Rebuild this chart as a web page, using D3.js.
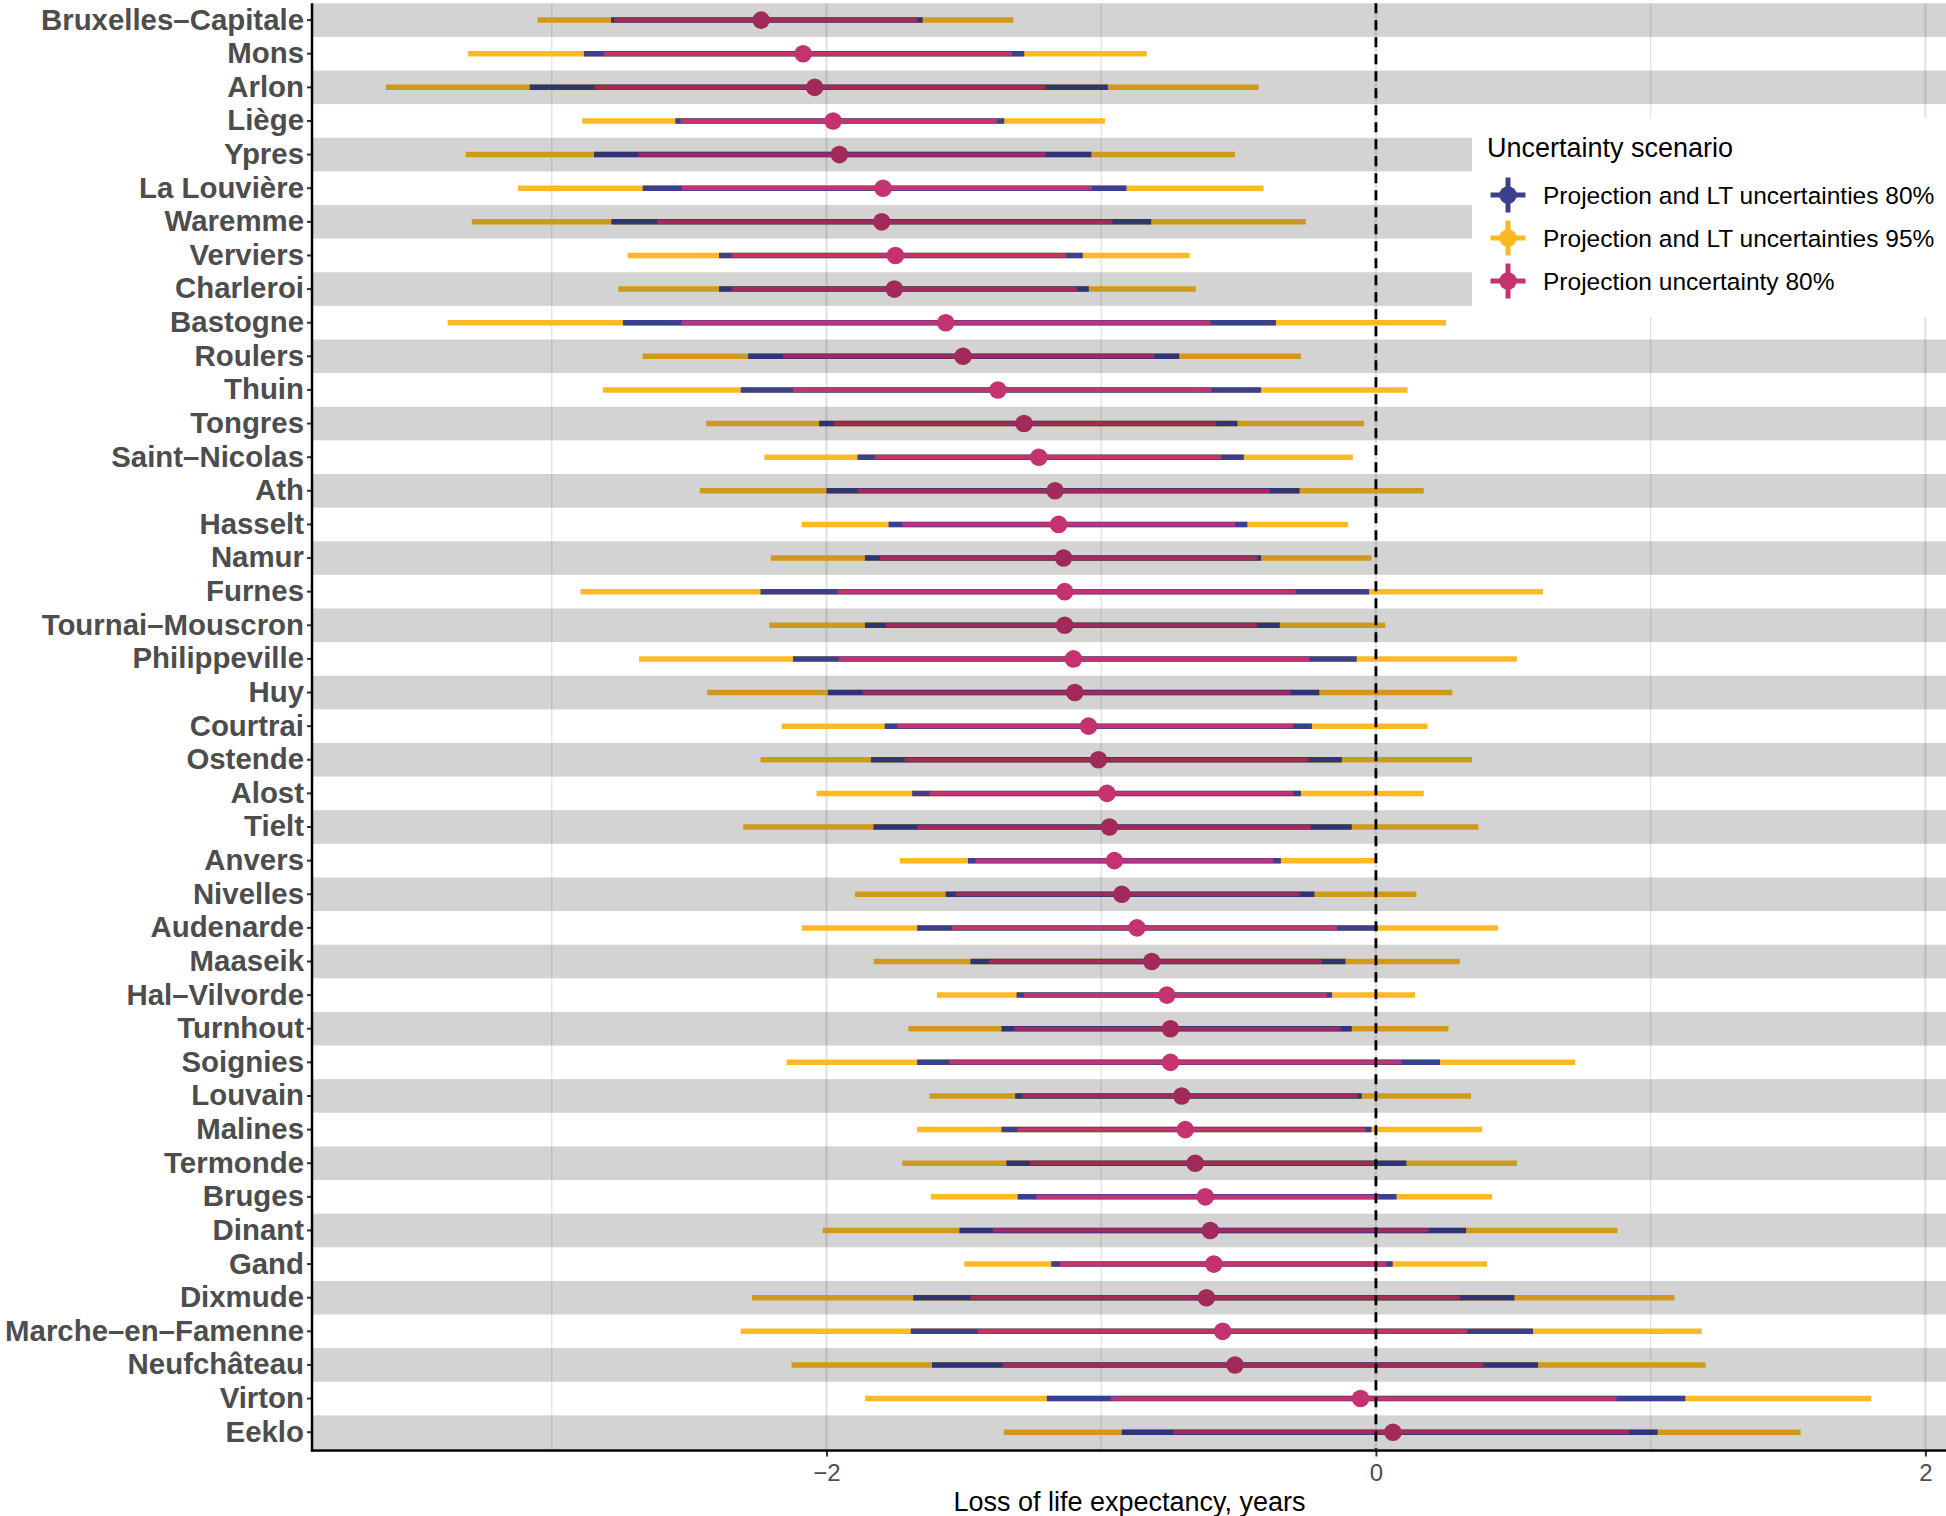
<!DOCTYPE html>
<html><head><meta charset="utf-8">
<script src="https://cdn.jsdelivr.net/npm/d3@7"></script>
<style>body{margin:0;background:#fff}svg{display:block}</style>
</head><body>
<script>
const regions = ["Bruxelles–Capitale","Mons","Arlon","Liège","Ypres","La Louvière","Waremme","Verviers","Charleroi","Bastogne","Roulers","Thuin","Tongres","Saint–Nicolas","Ath","Hasselt","Namur","Furnes","Tournai–Mouscron","Philippeville","Huy","Courtrai","Ostende","Alost","Tielt","Anvers","Nivelles","Audenarde","Maaseik","Hal–Vilvorde","Turnhout","Soignies","Louvain","Malines","Termonde","Bruges","Dinant","Gand","Dixmude","Marche–en–Famenne","Neufchâteau","Virton","Eeklo"];
const estimate = [-2.238,-2.085,-2.043,-1.976,-1.953,-1.794,-1.799,-1.749,-1.753,-1.566,-1.503,-1.376,-1.281,-1.227,-1.168,-1.155,-1.137,-1.133,-1.133,-1.101,-1.096,-1.046,-1.010,-0.979,-0.970,-0.952,-0.925,-0.870,-0.816,-0.761,-0.748,-0.748,-0.707,-0.694,-0.658,-0.621,-0.603,-0.590,-0.617,-0.558,-0.513,-0.056,0.062];
const projLo = [-2.772,-2.811,-2.844,-2.531,-2.685,-2.527,-2.616,-2.345,-2.345,-2.527,-2.158,-2.122,-1.973,-1.824,-1.887,-1.724,-1.806,-1.960,-1.783,-1.955,-1.869,-1.742,-1.715,-1.625,-1.670,-1.458,-1.530,-1.543,-1.408,-1.281,-1.317,-1.553,-1.286,-1.304,-1.259,-1.236,-1.394,-1.150,-1.476,-1.449,-1.358,-0.965,-0.738];
const projHi = [-1.670,-1.324,-1.203,-1.378,-1.202,-1.034,-0.959,-1.127,-1.088,-0.603,-0.807,-0.599,-0.581,-0.563,-0.386,-0.513,-0.432,-0.292,-0.432,-0.242,-0.310,-0.301,-0.246,-0.301,-0.237,-0.373,-0.278,-0.142,-0.197,-0.179,-0.129,0.093,-0.066,-0.038,-0.007,0.011,0.192,0.038,0.305,0.332,0.391,0.876,0.921];
const lt80Lo = [-2.784,-2.883,-3.080,-2.550,-2.846,-2.669,-2.783,-2.391,-2.391,-2.741,-2.285,-2.312,-2.027,-1.887,-2.000,-1.774,-1.860,-2.240,-1.860,-2.122,-1.995,-1.788,-1.838,-1.688,-1.829,-1.485,-1.566,-1.670,-1.476,-1.308,-1.363,-1.670,-1.313,-1.363,-1.345,-1.304,-1.516,-1.182,-1.684,-1.693,-1.616,-1.198,-0.925];
const lt80Hi = [-1.650,-1.280,-0.976,-1.353,-1.036,-0.908,-0.818,-1.067,-1.045,-0.364,-0.716,-0.418,-0.504,-0.481,-0.278,-0.468,-0.418,-0.025,-0.350,-0.070,-0.206,-0.233,-0.124,-0.273,-0.088,-0.346,-0.224,0.007,-0.111,-0.160,-0.088,0.233,-0.052,-0.016,0.111,0.075,0.328,0.061,0.504,0.572,0.590,1.126,1.025];
const lt95Lo = [-3.052,-3.305,-3.604,-2.889,-3.313,-3.123,-3.291,-2.724,-2.758,-3.379,-2.669,-2.814,-2.438,-2.226,-2.461,-2.090,-2.203,-2.895,-2.208,-2.682,-2.434,-2.163,-2.240,-2.036,-2.303,-1.733,-1.896,-2.090,-1.828,-1.598,-1.702,-2.145,-1.625,-1.670,-1.724,-1.620,-2.014,-1.498,-2.271,-2.312,-2.127,-1.859,-1.355];
const lt95Hi = [-1.320,-0.834,-0.427,-0.986,-0.513,-0.409,-0.255,-0.678,-0.656,0.255,-0.273,0.115,-0.043,-0.084,0.174,-0.102,-0.016,0.608,0.034,0.513,0.278,0.188,0.350,0.174,0.373,-0.002,0.147,0.445,0.305,0.142,0.264,0.725,0.346,0.387,0.513,0.423,0.879,0.405,1.087,1.186,1.200,1.803,1.546];
const xTicks = [-2, 0, 2];
const xMinor = [-3, -1, 1];
const legendTitle = "Uncertainty scenario";
const legendLabels = ["Projection and LT uncertainties 80%","Projection and LT uncertainties 95%","Projection uncertainty 80%"];
const xTitle = "Loss of life expectancy, years";

const colNavy = "#3b3f8c", colYellow = "#fbb923", colPink = "#c4336f";
const W = 1946, H = 1516;
const L = 313, R = 1946, T = 3.3, B = 1449;
const font = "'Liberation Sans', Arial, Helvetica, sans-serif";

const rows = regions.map((r, i) => ({r, i, est: estimate[i], pLo: projLo[i], pHi: projHi[i], aLo: lt80Lo[i], aHi: lt80Hi[i], bLo: lt95Lo[i], bHi: lt95Hi[i]}));

const x = d3.scaleLinear().domain([-3.869, 2.075]).range([L, R]);
const y = d3.scaleBand().domain(regions).range([T, B]).padding(0);
const cy = d => y(d.r) + y.bandwidth() / 2;

const svg = d3.select("body").append("svg").attr("width", W).attr("height", H).style("font-family", font);

// grid
svg.append("g").selectAll("line").data(xMinor).join("line")
  .attr("x1", d => x(d)).attr("x2", d => x(d)).attr("y1", T).attr("y2", B)
  .attr("stroke", "#e6e6e6").attr("stroke-width", 1.5);
svg.append("g").selectAll("line").data(xTicks).join("line")
  .attr("x1", d => x(d)).attr("x2", d => x(d)).attr("y1", T).attr("y2", B)
  .attr("stroke", "#e6e6e6").attr("stroke-width", 2.5);

const seg = (lo, hi, col, w) => svg.append("g").selectAll("line").data(rows).join("line")
  .attr("x1", d => x(d[lo])).attr("x2", d => x(d[hi])).attr("y1", cy).attr("y2", cy)
  .attr("stroke", col).attr("stroke-width", w);
seg("bLo", "bHi", colYellow, 5.5);
seg("aLo", "aHi", colNavy, 5.5);
seg("pLo", "pHi", colPink, 4.2);

// zero line
svg.append("line").attr("x1", x(0)).attr("x2", x(0)).attr("y1", T).attr("y2", B)
  .attr("stroke", "#000").attr("stroke-width", 2.8).attr("stroke-dasharray", "10,7");

svg.append("g").selectAll("circle").data(rows).join("circle")
  .attr("cx", d => x(d.est)).attr("cy", cy).attr("r", 8.8).attr("fill", colPink);

// alternating grey bands on top (semi-transparent)
svg.append("g").selectAll("rect").data(rows.filter(d => d.i % 2 === 0)).join("rect")
  .attr("x", L).attr("width", R - L).attr("y", d => y(d.r)).attr("height", y.bandwidth())
  .attr("fill", "#000").attr("fill-opacity", 0.173);

// axes
const ya = svg.append("g").attr("transform", `translate(${L},0)`)
  .call(d3.axisLeft(y).tickSize(6).tickPadding(3));
ya.select(".domain").remove();
ya.selectAll(".tick line").attr("stroke", "#333").attr("stroke-width", 2);
ya.selectAll(".tick text").attr("fill", "#4d4d4d").style("font-size", "29.4px")
  .style("font-weight", "bold").style("font-family", font);

const xa = svg.append("g").attr("transform", `translate(0,${B + 1.5})`)
  .call(d3.axisBottom(x).tickValues(xTicks).tickSize(6).tickPadding(7).tickFormat(d3.format("d")));
xa.select(".domain").remove();
xa.selectAll(".tick line").attr("stroke", "#333").attr("stroke-width", 2);
xa.selectAll(".tick text").attr("fill", "#4d4d4d").style("font-size", "24px").style("font-family", font);

svg.append("line").attr("x1", L - 1).attr("x2", L - 1).attr("y1", T).attr("y2", B + 2.5)
  .attr("stroke", "#000").attr("stroke-width", 2.5);
svg.append("line").attr("x1", L - 2).attr("x2", R).attr("y1", B + 1.5).attr("y2", B + 1.5)
  .attr("stroke", "#000").attr("stroke-width", 2.5);

svg.append("text").attr("x", (L + R) / 2).attr("y", 1511).attr("text-anchor", "middle")
  .style("font-size", "27px").attr("fill", "#000").text(xTitle);

// legend
const lg = svg.append("g");
lg.append("rect").attr("x", 1472).attr("y", 118).attr("width", W - 1472).attr("height", 199).attr("fill", "#fff");
lg.append("text").attr("x", 1487).attr("y", 157).style("font-size", "27px").attr("fill", "#000").text(legendTitle);
const lcols = [colNavy, colYellow, colPink];
const items = lg.selectAll("g.item").data(legendLabels).join("g").attr("class", "item")
  .attr("transform", (d, i) => `translate(1508,${195 + i * 43})`);
items.append("line").attr("x1", -17.5).attr("x2", 17.5).attr("stroke", (d, i) => lcols[i]).attr("stroke-width", 5);
items.append("line").attr("y1", -17.5).attr("y2", 17.5).attr("stroke", (d, i) => lcols[i]).attr("stroke-width", 5);
items.append("circle").attr("r", 8.8).attr("fill", (d, i) => lcols[i]);
items.append("text").attr("x", 35).attr("dy", "0.35em").style("font-size", "24.5px").attr("fill", "#000").text(d => d);
</script>
</body></html>
